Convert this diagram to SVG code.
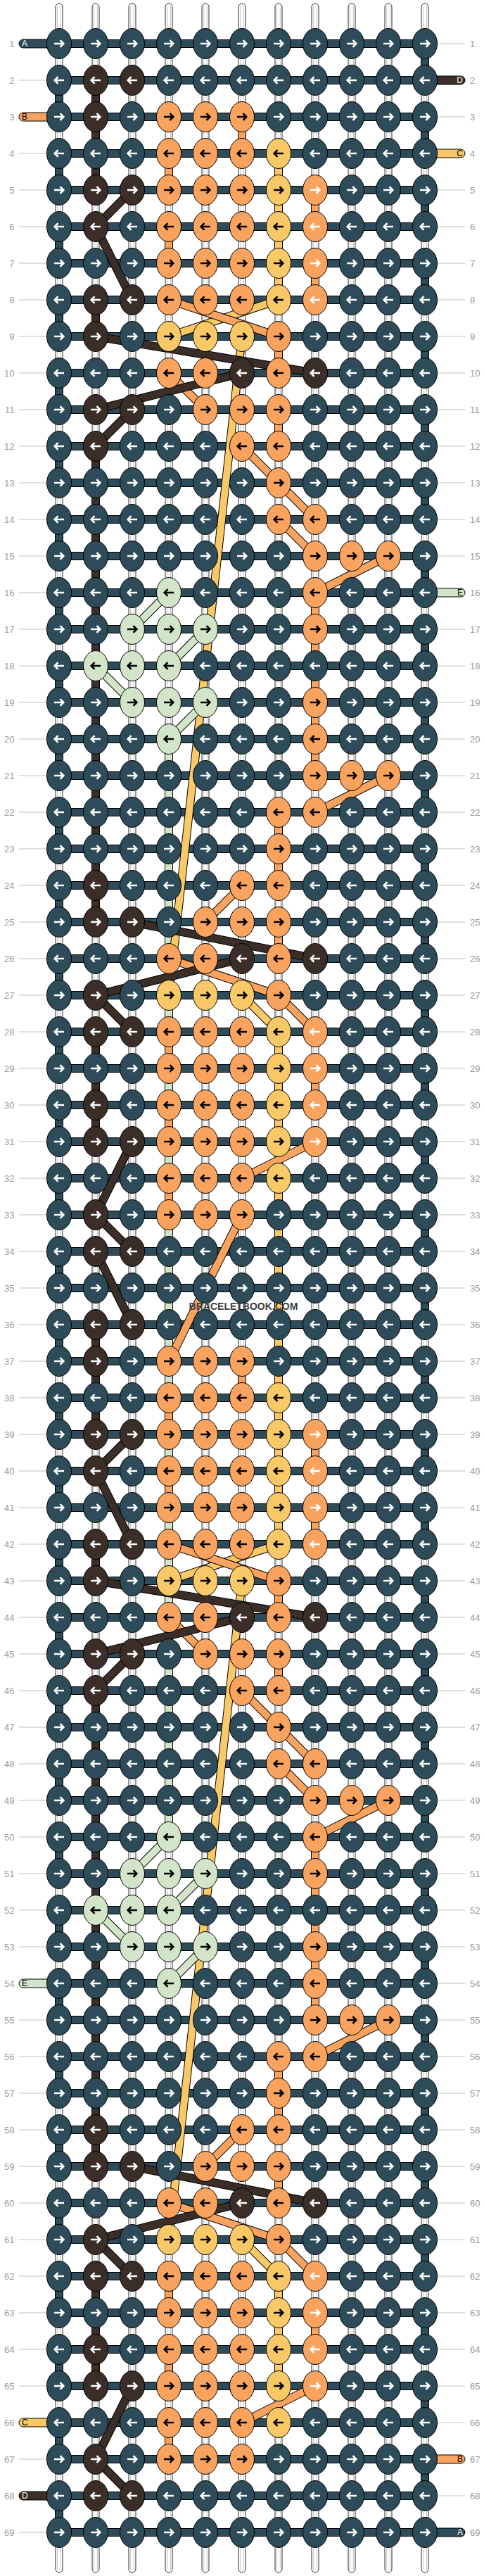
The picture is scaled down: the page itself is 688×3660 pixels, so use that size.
<svg xmlns="http://www.w3.org/2000/svg" width="688" height="3660" viewBox="0 0 688 3660">
<style>
.lbl{font-family:"Liberation Sans",Arial,sans-serif;font-size:13px;fill:#9a9a9a}
.lr{text-anchor:end}
.tab{font-family:"Liberation Sans",Arial,sans-serif;font-size:12px}
.wm{font-family:"Liberation Sans",Arial,sans-serif;font-size:14px;font-weight:bold;fill:#3d3d3d}
</style>
<defs>
<ellipse id="kn" rx="17.5" ry="21.5" stroke="#000" stroke-width="1"/>
<path id="ar" d="M-7,0H6M1.5,-4.8L6.3,0L1.5,4.8" fill="none" stroke-width="2.6"/>
<path id="al" d="M7,0H-6M-1.5,-4.8L-6.3,0L-1.5,4.8" fill="none" stroke-width="2.6"/>
<g id="Tr"><use href="#kn" fill="#2d4b58"/><use href="#ar" stroke="#fff"/></g>
<g id="Tl"><use href="#kn" fill="#2d4b58"/><use href="#al" stroke="#fff"/></g>
<g id="Kr"><use href="#kn" fill="#3b2e28"/><use href="#ar" stroke="#fff"/></g>
<g id="Kl"><use href="#kn" fill="#3b2e28"/><use href="#al" stroke="#fff"/></g>
<g id="Or"><use href="#kn" fill="#f9a35f"/><use href="#ar" stroke="#000"/></g>
<g id="Ol"><use href="#kn" fill="#f9a35f"/><use href="#al" stroke="#000"/></g>
<g id="Wr"><use href="#kn" fill="#f9a35f"/><use href="#ar" stroke="#fff"/></g>
<g id="Wl"><use href="#kn" fill="#f9a35f"/><use href="#al" stroke="#fff"/></g>
<g id="Yr"><use href="#kn" fill="#f9c967"/><use href="#ar" stroke="#000"/></g>
<g id="Yl"><use href="#kn" fill="#f9c967"/><use href="#al" stroke="#000"/></g>
<g id="Gr"><use href="#kn" fill="#d3e5c8"/><use href="#ar" stroke="#000"/></g>
<g id="Gl"><use href="#kn" fill="#d3e5c8"/><use href="#al" stroke="#000"/></g>
<rect id="vs" x="-5.5" y="19" width="11" height="14" stroke="#000" stroke-width="1"/>
<rect id="bd" x="84" y="-5.5" width="520" height="11" fill="#2d4b58" stroke="#000" stroke-width="1"/>
<g id="str"><rect x="-5" y="5" width="10" height="3650" rx="5" fill="#fff" stroke="#2a2a2a" stroke-width="1"/><path d="M-2.3,9V3651M2.3,9V3651" stroke="#c4c4c4" stroke-width="1"/></g>
<path id="dY" fill="none" d="M396,426L240,478M344,478L240,1414M344,1414L396,1466M396,2194L240,2246M344,2246L240,3182M344,3182L396,3234"/>
<path id="dO" fill="none" d="M240,426L396,478M240,530L292,582M344,634L396,686M396,686L448,738M396,738L448,790M552,790L448,842M552,1102L448,1154M344,1258L292,1310M240,1362L396,1414M396,1414L448,1466M448,1622L344,1674M344,1726L240,1934M240,2194L396,2246M240,2298L292,2350M344,2402L396,2454M396,2454L448,2506M396,2506L448,2558M552,2558L448,2610M552,2870L448,2922M344,3026L292,3078M240,3130L396,3182M396,3182L448,3234M448,3390L344,3442"/>
<path id="dG" fill="none" d="M240,842L188,894M292,894L240,946M136,946L188,998M292,998L240,1050M240,2610L188,2662M292,2662L240,2714M136,2714L188,2766M292,2766L240,2818"/>
<path id="dK" fill="none" d="M188,270L136,322M136,322L188,426M136,478L448,530M344,530L136,582M188,582L136,634M188,1310L448,1362M344,1362L136,1414M136,1414L188,1466M188,1622L136,1726M136,1726L188,1778M136,1778L188,1882M188,2038L136,2090M136,2090L188,2194M136,2246L448,2298M344,2298L136,2350M188,2350L136,2402M188,3078L448,3130M344,3130L136,3182M136,3182L188,3234M188,3390L136,3494M136,3494L188,3546"/>
</defs>
<rect width="688" height="3660" fill="#fff"/>
<g id="strings"><use href="#str" x="84"/><use href="#str" x="136"/><use href="#str" x="188"/><use href="#str" x="240"/><use href="#str" x="292"/><use href="#str" x="344"/><use href="#str" x="396"/><use href="#str" x="448"/><use href="#str" x="500"/><use href="#str" x="552"/><use href="#str" x="604"/></g>
<g id="labels">
<path d="M27,114H67M27,218H67M27,270H67M27,322H67M27,374H67M27,426H67M27,478H67M27,530H67M27,582H67M27,634H67M27,686H67M27,738H67M27,790H67M27,842H67M27,894H67M27,946H67M27,998H67M27,1050H67M27,1102H67M27,1154H67M27,1206H67M27,1258H67M27,1310H67M27,1362H67M27,1414H67M27,1466H67M27,1518H67M27,1570H67M27,1622H67M27,1674H67M27,1726H67M27,1778H67M27,1830H67M27,1882H67M27,1934H67M27,1986H67M27,2038H67M27,2090H67M27,2142H67M27,2194H67M27,2246H67M27,2298H67M27,2350H67M27,2402H67M27,2454H67M27,2506H67M27,2558H67M27,2610H67M27,2662H67M27,2714H67M27,2766H67M27,2870H67M27,2922H67M27,2974H67M27,3026H67M27,3078H67M27,3130H67M27,3182H67M27,3234H67M27,3286H67M27,3338H67M27,3390H67M27,3494H67M27,3598H67M621,62H661M621,166H661M621,270H661M621,322H661M621,374H661M621,426H661M621,478H661M621,530H661M621,582H661M621,634H661M621,686H661M621,738H661M621,790H661M621,894H661M621,946H661M621,998H661M621,1050H661M621,1102H661M621,1154H661M621,1206H661M621,1258H661M621,1310H661M621,1362H661M621,1414H661M621,1466H661M621,1518H661M621,1570H661M621,1622H661M621,1674H661M621,1726H661M621,1778H661M621,1830H661M621,1882H661M621,1934H661M621,1986H661M621,2038H661M621,2090H661M621,2142H661M621,2194H661M621,2246H661M621,2298H661M621,2350H661M621,2402H661M621,2454H661M621,2506H661M621,2558H661M621,2610H661M621,2662H661M621,2714H661M621,2766H661M621,2818H661M621,2870H661M621,2922H661M621,2974H661M621,3026H661M621,3078H661M621,3130H661M621,3182H661M621,3234H661M621,3286H661M621,3338H661M621,3390H661M621,3442H661M621,3546H661" stroke="#c0c0c0" stroke-width="1.2" fill="none"/>
<g class="lbl lr">
<text x="20.5" y="66.5">1</text><text x="20.5" y="118.5">2</text><text x="20.5" y="170.5">3</text><text x="20.5" y="222.5">4</text><text x="20.5" y="274.5">5</text><text x="20.5" y="326.5">6</text><text x="20.5" y="378.5">7</text><text x="20.5" y="430.5">8</text><text x="20.5" y="482.5">9</text><text x="20.5" y="534.5">10</text><text x="20.5" y="586.5">11</text><text x="20.5" y="638.5">12</text><text x="20.5" y="690.5">13</text><text x="20.5" y="742.5">14</text><text x="20.5" y="794.5">15</text><text x="20.5" y="846.5">16</text><text x="20.5" y="898.5">17</text><text x="20.5" y="950.5">18</text><text x="20.5" y="1002.5">19</text><text x="20.5" y="1054.5">20</text><text x="20.5" y="1106.5">21</text><text x="20.5" y="1158.5">22</text><text x="20.5" y="1210.5">23</text><text x="20.5" y="1262.5">24</text><text x="20.5" y="1314.5">25</text><text x="20.5" y="1366.5">26</text><text x="20.5" y="1418.5">27</text><text x="20.5" y="1470.5">28</text><text x="20.5" y="1522.5">29</text><text x="20.5" y="1574.5">30</text><text x="20.5" y="1626.5">31</text><text x="20.5" y="1678.5">32</text><text x="20.5" y="1730.5">33</text><text x="20.5" y="1782.5">34</text><text x="20.5" y="1834.5">35</text><text x="20.5" y="1886.5">36</text><text x="20.5" y="1938.5">37</text><text x="20.5" y="1990.5">38</text><text x="20.5" y="2042.5">39</text><text x="20.5" y="2094.5">40</text><text x="20.5" y="2146.5">41</text><text x="20.5" y="2198.5">42</text><text x="20.5" y="2250.5">43</text><text x="20.5" y="2302.5">44</text><text x="20.5" y="2354.5">45</text><text x="20.5" y="2406.5">46</text><text x="20.5" y="2458.5">47</text><text x="20.5" y="2510.5">48</text><text x="20.5" y="2562.5">49</text><text x="20.5" y="2614.5">50</text><text x="20.5" y="2666.5">51</text><text x="20.5" y="2718.5">52</text><text x="20.5" y="2770.5">53</text><text x="20.5" y="2822.5">54</text><text x="20.5" y="2874.5">55</text><text x="20.5" y="2926.5">56</text><text x="20.5" y="2978.5">57</text><text x="20.5" y="3030.5">58</text><text x="20.5" y="3082.5">59</text><text x="20.5" y="3134.5">60</text><text x="20.5" y="3186.5">61</text><text x="20.5" y="3238.5">62</text><text x="20.5" y="3290.5">63</text><text x="20.5" y="3342.5">64</text><text x="20.5" y="3394.5">65</text><text x="20.5" y="3446.5">66</text><text x="20.5" y="3498.5">67</text><text x="20.5" y="3550.5">68</text><text x="20.5" y="3602.5">69</text>
</g>
<g class="lbl">
<text x="668" y="66.5">1</text><text x="668" y="118.5">2</text><text x="668" y="170.5">3</text><text x="668" y="222.5">4</text><text x="668" y="274.5">5</text><text x="668" y="326.5">6</text><text x="668" y="378.5">7</text><text x="668" y="430.5">8</text><text x="668" y="482.5">9</text><text x="668" y="534.5">10</text><text x="668" y="586.5">11</text><text x="668" y="638.5">12</text><text x="668" y="690.5">13</text><text x="668" y="742.5">14</text><text x="668" y="794.5">15</text><text x="668" y="846.5">16</text><text x="668" y="898.5">17</text><text x="668" y="950.5">18</text><text x="668" y="1002.5">19</text><text x="668" y="1054.5">20</text><text x="668" y="1106.5">21</text><text x="668" y="1158.5">22</text><text x="668" y="1210.5">23</text><text x="668" y="1262.5">24</text><text x="668" y="1314.5">25</text><text x="668" y="1366.5">26</text><text x="668" y="1418.5">27</text><text x="668" y="1470.5">28</text><text x="668" y="1522.5">29</text><text x="668" y="1574.5">30</text><text x="668" y="1626.5">31</text><text x="668" y="1678.5">32</text><text x="668" y="1730.5">33</text><text x="668" y="1782.5">34</text><text x="668" y="1834.5">35</text><text x="668" y="1886.5">36</text><text x="668" y="1938.5">37</text><text x="668" y="1990.5">38</text><text x="668" y="2042.5">39</text><text x="668" y="2094.5">40</text><text x="668" y="2146.5">41</text><text x="668" y="2198.5">42</text><text x="668" y="2250.5">43</text><text x="668" y="2302.5">44</text><text x="668" y="2354.5">45</text><text x="668" y="2406.5">46</text><text x="668" y="2458.5">47</text><text x="668" y="2510.5">48</text><text x="668" y="2562.5">49</text><text x="668" y="2614.5">50</text><text x="668" y="2666.5">51</text><text x="668" y="2718.5">52</text><text x="668" y="2770.5">53</text><text x="668" y="2822.5">54</text><text x="668" y="2874.5">55</text><text x="668" y="2926.5">56</text><text x="668" y="2978.5">57</text><text x="668" y="3030.5">58</text><text x="668" y="3082.5">59</text><text x="668" y="3134.5">60</text><text x="668" y="3186.5">61</text><text x="668" y="3238.5">62</text><text x="668" y="3290.5">63</text><text x="668" y="3342.5">64</text><text x="668" y="3394.5">65</text><text x="668" y="3446.5">66</text><text x="668" y="3498.5">67</text><text x="668" y="3550.5">68</text><text x="668" y="3602.5">69</text>
</g>
</g>
<g id="bands"><use href="#bd" y="62"/><use href="#bd" y="114"/><use href="#bd" y="166"/><use href="#bd" y="218"/><use href="#bd" y="270"/><use href="#bd" y="322"/><use href="#bd" y="374"/><use href="#bd" y="426"/><use href="#bd" y="478"/><use href="#bd" y="530"/><use href="#bd" y="582"/><use href="#bd" y="634"/><use href="#bd" y="686"/><use href="#bd" y="738"/><use href="#bd" y="790"/><use href="#bd" y="842"/><use href="#bd" y="894"/><use href="#bd" y="946"/><use href="#bd" y="998"/><use href="#bd" y="1050"/><use href="#bd" y="1102"/><use href="#bd" y="1154"/><use href="#bd" y="1206"/><use href="#bd" y="1258"/><use href="#bd" y="1310"/><use href="#bd" y="1362"/><use href="#bd" y="1414"/><use href="#bd" y="1466"/><use href="#bd" y="1518"/><use href="#bd" y="1570"/><use href="#bd" y="1622"/><use href="#bd" y="1674"/><use href="#bd" y="1726"/><use href="#bd" y="1778"/><use href="#bd" y="1830"/><use href="#bd" y="1882"/><use href="#bd" y="1934"/><use href="#bd" y="1986"/><use href="#bd" y="2038"/><use href="#bd" y="2090"/><use href="#bd" y="2142"/><use href="#bd" y="2194"/><use href="#bd" y="2246"/><use href="#bd" y="2298"/><use href="#bd" y="2350"/><use href="#bd" y="2402"/><use href="#bd" y="2454"/><use href="#bd" y="2506"/><use href="#bd" y="2558"/><use href="#bd" y="2610"/><use href="#bd" y="2662"/><use href="#bd" y="2714"/><use href="#bd" y="2766"/><use href="#bd" y="2818"/><use href="#bd" y="2870"/><use href="#bd" y="2922"/><use href="#bd" y="2974"/><use href="#bd" y="3026"/><use href="#bd" y="3078"/><use href="#bd" y="3130"/><use href="#bd" y="3182"/><use href="#bd" y="3234"/><use href="#bd" y="3286"/><use href="#bd" y="3338"/><use href="#bd" y="3390"/><use href="#bd" y="3442"/><use href="#bd" y="3494"/><use href="#bd" y="3546"/><use href="#bd" y="3598"/></g>
<g id="tabs">
<g fill="#2d4b58" stroke="#000"><rect x="27" y="56" width="48" height="12" rx="6"/><rect x="613" y="3592" width="48" height="12" rx="6"/></g>
<g fill="#f9a35f" stroke="#000"><rect x="27" y="160" width="48" height="12" rx="6"/><rect x="613" y="3488" width="48" height="12" rx="6"/></g>
<g fill="#3b2e28" stroke="#000"><rect x="613" y="108" width="48" height="12" rx="6"/><rect x="27" y="3540" width="48" height="12" rx="6"/></g>
<g fill="#f9c967" stroke="#000"><rect x="613" y="212" width="48" height="12" rx="6"/><rect x="27" y="3436" width="48" height="12" rx="6"/></g>
<g fill="#d3e5c8" stroke="#000"><rect x="613" y="836" width="48" height="12" rx="6"/><rect x="27" y="2812" width="48" height="12" rx="6"/></g>
<g class="tab">
<text x="31" y="66.3" fill="#fff">A</text><text x="658" y="3602.3" fill="#fff" text-anchor="end">A</text>
<text x="31" y="170.3" fill="#000">B</text><text x="658" y="3498.3" fill="#000" text-anchor="end">B</text>
<text x="658" y="118.3" fill="#fff" text-anchor="end">D</text><text x="31" y="3550.3" fill="#fff">D</text>
<text x="658" y="222.3" fill="#000" text-anchor="end">C</text><text x="31" y="3446.3" fill="#000">C</text>
<text x="658" y="846.3" fill="#000" text-anchor="end">E</text><text x="31" y="2822.3" fill="#000">E</text>
</g>
</g>
<g id="connectors">
<g id="turns" fill="#2d4b58"><use href="#vs" x="604" y="62"/><use href="#vs" x="604" y="166"/><use href="#vs" x="604" y="270"/><use href="#vs" x="604" y="374"/><use href="#vs" x="604" y="478"/><use href="#vs" x="604" y="582"/><use href="#vs" x="604" y="686"/><use href="#vs" x="604" y="790"/><use href="#vs" x="604" y="894"/><use href="#vs" x="604" y="998"/><use href="#vs" x="604" y="1102"/><use href="#vs" x="604" y="1206"/><use href="#vs" x="604" y="1310"/><use href="#vs" x="604" y="1414"/><use href="#vs" x="604" y="1518"/><use href="#vs" x="604" y="1622"/><use href="#vs" x="604" y="1726"/><use href="#vs" x="604" y="1830"/><use href="#vs" x="604" y="1934"/><use href="#vs" x="604" y="2038"/><use href="#vs" x="604" y="2142"/><use href="#vs" x="604" y="2246"/><use href="#vs" x="604" y="2350"/><use href="#vs" x="604" y="2454"/><use href="#vs" x="604" y="2558"/><use href="#vs" x="604" y="2662"/><use href="#vs" x="604" y="2766"/><use href="#vs" x="604" y="2870"/><use href="#vs" x="604" y="2974"/><use href="#vs" x="604" y="3078"/><use href="#vs" x="604" y="3182"/><use href="#vs" x="604" y="3286"/><use href="#vs" x="604" y="3390"/><use href="#vs" x="604" y="3494"/><use href="#vs" x="84" y="114"/><use href="#vs" x="84" y="218"/><use href="#vs" x="84" y="322"/><use href="#vs" x="84" y="426"/><use href="#vs" x="84" y="530"/><use href="#vs" x="84" y="634"/><use href="#vs" x="84" y="738"/><use href="#vs" x="84" y="842"/><use href="#vs" x="84" y="946"/><use href="#vs" x="84" y="1050"/><use href="#vs" x="84" y="1154"/><use href="#vs" x="84" y="1258"/><use href="#vs" x="84" y="1362"/><use href="#vs" x="84" y="1466"/><use href="#vs" x="84" y="1570"/><use href="#vs" x="84" y="1674"/><use href="#vs" x="84" y="1778"/><use href="#vs" x="84" y="1882"/><use href="#vs" x="84" y="1986"/><use href="#vs" x="84" y="2090"/><use href="#vs" x="84" y="2194"/><use href="#vs" x="84" y="2298"/><use href="#vs" x="84" y="2402"/><use href="#vs" x="84" y="2506"/><use href="#vs" x="84" y="2610"/><use href="#vs" x="84" y="2714"/><use href="#vs" x="84" y="2818"/><use href="#vs" x="84" y="2922"/><use href="#vs" x="84" y="3026"/><use href="#vs" x="84" y="3130"/><use href="#vs" x="84" y="3234"/><use href="#vs" x="84" y="3338"/><use href="#vs" x="84" y="3442"/><use href="#vs" x="84" y="3546"/></g>
<g id="vK" fill="#3b2e28"><use href="#vs" x="136" y="114"/><use href="#vs" x="136" y="166"/><use href="#vs" x="136" y="218"/><use href="#vs" x="136" y="426"/><use href="#vs" x="136" y="634"/><use href="#vs" x="136" y="686"/><use href="#vs" x="136" y="738"/><use href="#vs" x="136" y="790"/><use href="#vs" x="136" y="842"/><use href="#vs" x="136" y="894"/><use href="#vs" x="136" y="946"/><use href="#vs" x="136" y="998"/><use href="#vs" x="136" y="1050"/><use href="#vs" x="136" y="1102"/><use href="#vs" x="136" y="1154"/><use href="#vs" x="136" y="1206"/><use href="#vs" x="136" y="1258"/><use href="#vs" x="136" y="1466"/><use href="#vs" x="136" y="1518"/><use href="#vs" x="136" y="1570"/><use href="#vs" x="136" y="1882"/><use href="#vs" x="136" y="1934"/><use href="#vs" x="136" y="1986"/><use href="#vs" x="136" y="2194"/><use href="#vs" x="136" y="2402"/><use href="#vs" x="136" y="2454"/><use href="#vs" x="136" y="2506"/><use href="#vs" x="136" y="2558"/><use href="#vs" x="136" y="2610"/><use href="#vs" x="136" y="2662"/><use href="#vs" x="136" y="2714"/><use href="#vs" x="136" y="2766"/><use href="#vs" x="136" y="2818"/><use href="#vs" x="136" y="2870"/><use href="#vs" x="136" y="2922"/><use href="#vs" x="136" y="2974"/><use href="#vs" x="136" y="3026"/><use href="#vs" x="136" y="3234"/><use href="#vs" x="136" y="3286"/><use href="#vs" x="136" y="3338"/></g>
<g id="vG" fill="#d3e5c8"><use href="#vs" x="240" y="1050"/><use href="#vs" x="240" y="1102"/><use href="#vs" x="240" y="1154"/><use href="#vs" x="240" y="1206"/><use href="#vs" x="240" y="1258"/><use href="#vs" x="240" y="1310"/><use href="#vs" x="240" y="1362"/><use href="#vs" x="240" y="1414"/><use href="#vs" x="240" y="1518"/><use href="#vs" x="240" y="1622"/><use href="#vs" x="240" y="1726"/><use href="#vs" x="240" y="1778"/><use href="#vs" x="240" y="1830"/><use href="#vs" x="240" y="1882"/><use href="#vs" x="240" y="1934"/><use href="#vs" x="240" y="2038"/><use href="#vs" x="240" y="2142"/><use href="#vs" x="240" y="2194"/><use href="#vs" x="240" y="2246"/><use href="#vs" x="240" y="2298"/><use href="#vs" x="240" y="2350"/><use href="#vs" x="240" y="2402"/><use href="#vs" x="240" y="2454"/><use href="#vs" x="240" y="2506"/><use href="#vs" x="240" y="2558"/></g>
<g id="vO" fill="#f9a35f"><use href="#vs" x="344" y="166"/><use href="#vs" x="240" y="218"/><use href="#vs" x="448" y="270"/><use href="#vs" x="240" y="322"/><use href="#vs" x="448" y="374"/><use href="#vs" x="396" y="478"/><use href="#vs" x="396" y="582"/><use href="#vs" x="448" y="842"/><use href="#vs" x="448" y="894"/><use href="#vs" x="448" y="946"/><use href="#vs" x="448" y="998"/><use href="#vs" x="448" y="1050"/><use href="#vs" x="396" y="1154"/><use href="#vs" x="396" y="1206"/><use href="#vs" x="396" y="1310"/><use href="#vs" x="240" y="1466"/><use href="#vs" x="448" y="1518"/><use href="#vs" x="240" y="1570"/><use href="#vs" x="240" y="1674"/><use href="#vs" x="344" y="1934"/><use href="#vs" x="240" y="1986"/><use href="#vs" x="448" y="2038"/><use href="#vs" x="240" y="2090"/><use href="#vs" x="448" y="2142"/><use href="#vs" x="396" y="2246"/><use href="#vs" x="396" y="2350"/><use href="#vs" x="448" y="2610"/><use href="#vs" x="448" y="2662"/><use href="#vs" x="448" y="2714"/><use href="#vs" x="448" y="2766"/><use href="#vs" x="448" y="2818"/><use href="#vs" x="396" y="2922"/><use href="#vs" x="396" y="2974"/><use href="#vs" x="396" y="3078"/><use href="#vs" x="240" y="3234"/><use href="#vs" x="448" y="3286"/><use href="#vs" x="240" y="3338"/><use href="#vs" x="240" y="3442"/></g>
<g id="vY" fill="#f9c967"><use href="#vs" x="396" y="218"/><use href="#vs" x="396" y="270"/><use href="#vs" x="396" y="322"/><use href="#vs" x="396" y="374"/><use href="#vs" x="396" y="1466"/><use href="#vs" x="396" y="1518"/><use href="#vs" x="396" y="1570"/><use href="#vs" x="396" y="1622"/><use href="#vs" x="396" y="1674"/><use href="#vs" x="396" y="1726"/><use href="#vs" x="396" y="1778"/><use href="#vs" x="396" y="1830"/><use href="#vs" x="396" y="1882"/><use href="#vs" x="396" y="1934"/><use href="#vs" x="396" y="1986"/><use href="#vs" x="396" y="2038"/><use href="#vs" x="396" y="2090"/><use href="#vs" x="396" y="2142"/><use href="#vs" x="396" y="3234"/><use href="#vs" x="396" y="3286"/><use href="#vs" x="396" y="3338"/><use href="#vs" x="396" y="3390"/></g>
<g id="diagonals">
<use href="#dY" stroke="#000" stroke-width="12"/><use href="#dY" stroke="#f9c967" stroke-width="10"/>
<use href="#dO" stroke="#000" stroke-width="12"/><use href="#dO" stroke="#f9a35f" stroke-width="10"/>
<use href="#dG" stroke="#000" stroke-width="12"/><use href="#dG" stroke="#d3e5c8" stroke-width="10"/>
<use href="#dK" stroke="#000" stroke-width="12"/><use href="#dK" stroke="#3b2e28" stroke-width="10"/>
</g>
</g>
<g id="knots">
<g id="row1" transform="translate(0,62)"><use id="n1_1" href="#Tr" x="84"/><use id="n1_2" href="#Tr" x="136"/><use id="n1_3" href="#Tr" x="188"/><use id="n1_4" href="#Tr" x="240"/><use id="n1_5" href="#Tr" x="292"/><use id="n1_6" href="#Tr" x="344"/><use id="n1_7" href="#Tr" x="396"/><use id="n1_8" href="#Tr" x="448"/><use id="n1_9" href="#Tr" x="500"/><use id="n1_10" href="#Tr" x="552"/><use id="n1_11" href="#Tr" x="604"/></g>
<g id="row2" transform="translate(0,114)"><use id="n2_1" href="#Tl" x="84"/><use id="n2_2" href="#Kl" x="136"/><use id="n2_3" href="#Kl" x="188"/><use id="n2_4" href="#Tl" x="240"/><use id="n2_5" href="#Tl" x="292"/><use id="n2_6" href="#Tl" x="344"/><use id="n2_7" href="#Tl" x="396"/><use id="n2_8" href="#Tl" x="448"/><use id="n2_9" href="#Tl" x="500"/><use id="n2_10" href="#Tl" x="552"/><use id="n2_11" href="#Tl" x="604"/></g>
<g id="row3" transform="translate(0,166)"><use id="n3_1" href="#Tr" x="84"/><use id="n3_2" href="#Kr" x="136"/><use id="n3_3" href="#Tr" x="188"/><use id="n3_4" href="#Or" x="240"/><use id="n3_5" href="#Or" x="292"/><use id="n3_6" href="#Or" x="344"/><use id="n3_7" href="#Tr" x="396"/><use id="n3_8" href="#Tr" x="448"/><use id="n3_9" href="#Tr" x="500"/><use id="n3_10" href="#Tr" x="552"/><use id="n3_11" href="#Tr" x="604"/></g>
<g id="row4" transform="translate(0,218)"><use id="n4_1" href="#Tl" x="84"/><use id="n4_2" href="#Tl" x="136"/><use id="n4_3" href="#Tl" x="188"/><use id="n4_4" href="#Ol" x="240"/><use id="n4_5" href="#Ol" x="292"/><use id="n4_6" href="#Ol" x="344"/><use id="n4_7" href="#Yl" x="396"/><use id="n4_8" href="#Tl" x="448"/><use id="n4_9" href="#Tl" x="500"/><use id="n4_10" href="#Tl" x="552"/><use id="n4_11" href="#Tl" x="604"/></g>
<g id="row5" transform="translate(0,270)"><use id="n5_1" href="#Tr" x="84"/><use id="n5_2" href="#Kr" x="136"/><use id="n5_3" href="#Kr" x="188"/><use id="n5_4" href="#Or" x="240"/><use id="n5_5" href="#Or" x="292"/><use id="n5_6" href="#Or" x="344"/><use id="n5_7" href="#Yr" x="396"/><use id="n5_8" href="#Wr" x="448"/><use id="n5_9" href="#Tr" x="500"/><use id="n5_10" href="#Tr" x="552"/><use id="n5_11" href="#Tr" x="604"/></g>
<g id="row6" transform="translate(0,322)"><use id="n6_1" href="#Tl" x="84"/><use id="n6_2" href="#Kl" x="136"/><use id="n6_3" href="#Tl" x="188"/><use id="n6_4" href="#Ol" x="240"/><use id="n6_5" href="#Ol" x="292"/><use id="n6_6" href="#Ol" x="344"/><use id="n6_7" href="#Yl" x="396"/><use id="n6_8" href="#Wl" x="448"/><use id="n6_9" href="#Tl" x="500"/><use id="n6_10" href="#Tl" x="552"/><use id="n6_11" href="#Tl" x="604"/></g>
<g id="row7" transform="translate(0,374)"><use id="n7_1" href="#Tr" x="84"/><use id="n7_2" href="#Tr" x="136"/><use id="n7_3" href="#Tr" x="188"/><use id="n7_4" href="#Or" x="240"/><use id="n7_5" href="#Or" x="292"/><use id="n7_6" href="#Or" x="344"/><use id="n7_7" href="#Yr" x="396"/><use id="n7_8" href="#Wr" x="448"/><use id="n7_9" href="#Tr" x="500"/><use id="n7_10" href="#Tr" x="552"/><use id="n7_11" href="#Tr" x="604"/></g>
<g id="row8" transform="translate(0,426)"><use id="n8_1" href="#Tl" x="84"/><use id="n8_2" href="#Kl" x="136"/><use id="n8_3" href="#Kl" x="188"/><use id="n8_4" href="#Ol" x="240"/><use id="n8_5" href="#Ol" x="292"/><use id="n8_6" href="#Ol" x="344"/><use id="n8_7" href="#Yl" x="396"/><use id="n8_8" href="#Wl" x="448"/><use id="n8_9" href="#Tl" x="500"/><use id="n8_10" href="#Tl" x="552"/><use id="n8_11" href="#Tl" x="604"/></g>
<g id="row9" transform="translate(0,478)"><use id="n9_1" href="#Tr" x="84"/><use id="n9_2" href="#Kr" x="136"/><use id="n9_3" href="#Tr" x="188"/><use id="n9_4" href="#Yr" x="240"/><use id="n9_5" href="#Yr" x="292"/><use id="n9_6" href="#Yr" x="344"/><use id="n9_7" href="#Or" x="396"/><use id="n9_8" href="#Tr" x="448"/><use id="n9_9" href="#Tr" x="500"/><use id="n9_10" href="#Tr" x="552"/><use id="n9_11" href="#Tr" x="604"/></g>
<g id="row10" transform="translate(0,530)"><use id="n10_1" href="#Tl" x="84"/><use id="n10_2" href="#Tl" x="136"/><use id="n10_3" href="#Tl" x="188"/><use id="n10_4" href="#Ol" x="240"/><use id="n10_5" href="#Ol" x="292"/><use id="n10_6" href="#Kl" x="344"/><use id="n10_7" href="#Ol" x="396"/><use id="n10_8" href="#Kl" x="448"/><use id="n10_9" href="#Tl" x="500"/><use id="n10_10" href="#Tl" x="552"/><use id="n10_11" href="#Tl" x="604"/></g>
<g id="row11" transform="translate(0,582)"><use id="n11_1" href="#Tr" x="84"/><use id="n11_2" href="#Kr" x="136"/><use id="n11_3" href="#Kr" x="188"/><use id="n11_4" href="#Tr" x="240"/><use id="n11_5" href="#Or" x="292"/><use id="n11_6" href="#Or" x="344"/><use id="n11_7" href="#Or" x="396"/><use id="n11_8" href="#Tr" x="448"/><use id="n11_9" href="#Tr" x="500"/><use id="n11_10" href="#Tr" x="552"/><use id="n11_11" href="#Tr" x="604"/></g>
<g id="row12" transform="translate(0,634)"><use id="n12_1" href="#Tl" x="84"/><use id="n12_2" href="#Kl" x="136"/><use id="n12_3" href="#Tl" x="188"/><use id="n12_4" href="#Tl" x="240"/><use id="n12_5" href="#Tl" x="292"/><use id="n12_6" href="#Ol" x="344"/><use id="n12_7" href="#Ol" x="396"/><use id="n12_8" href="#Tl" x="448"/><use id="n12_9" href="#Tl" x="500"/><use id="n12_10" href="#Tl" x="552"/><use id="n12_11" href="#Tl" x="604"/></g>
<g id="row13" transform="translate(0,686)"><use id="n13_1" href="#Tr" x="84"/><use id="n13_2" href="#Tr" x="136"/><use id="n13_3" href="#Tr" x="188"/><use id="n13_4" href="#Tr" x="240"/><use id="n13_5" href="#Tr" x="292"/><use id="n13_6" href="#Tr" x="344"/><use id="n13_7" href="#Or" x="396"/><use id="n13_8" href="#Tr" x="448"/><use id="n13_9" href="#Tr" x="500"/><use id="n13_10" href="#Tr" x="552"/><use id="n13_11" href="#Tr" x="604"/></g>
<g id="row14" transform="translate(0,738)"><use id="n14_1" href="#Tl" x="84"/><use id="n14_2" href="#Tl" x="136"/><use id="n14_3" href="#Tl" x="188"/><use id="n14_4" href="#Tl" x="240"/><use id="n14_5" href="#Tl" x="292"/><use id="n14_6" href="#Tl" x="344"/><use id="n14_7" href="#Ol" x="396"/><use id="n14_8" href="#Ol" x="448"/><use id="n14_9" href="#Tl" x="500"/><use id="n14_10" href="#Tl" x="552"/><use id="n14_11" href="#Tl" x="604"/></g>
<g id="row15" transform="translate(0,790)"><use id="n15_1" href="#Tr" x="84"/><use id="n15_2" href="#Tr" x="136"/><use id="n15_3" href="#Tr" x="188"/><use id="n15_4" href="#Tr" x="240"/><use id="n15_5" href="#Tr" x="292"/><use id="n15_6" href="#Tr" x="344"/><use id="n15_7" href="#Tr" x="396"/><use id="n15_8" href="#Or" x="448"/><use id="n15_9" href="#Or" x="500"/><use id="n15_10" href="#Or" x="552"/><use id="n15_11" href="#Tr" x="604"/></g>
<g id="row16" transform="translate(0,842)"><use id="n16_1" href="#Tl" x="84"/><use id="n16_2" href="#Tl" x="136"/><use id="n16_3" href="#Tl" x="188"/><use id="n16_4" href="#Gl" x="240"/><use id="n16_5" href="#Tl" x="292"/><use id="n16_6" href="#Tl" x="344"/><use id="n16_7" href="#Tl" x="396"/><use id="n16_8" href="#Ol" x="448"/><use id="n16_9" href="#Tl" x="500"/><use id="n16_10" href="#Tl" x="552"/><use id="n16_11" href="#Tl" x="604"/></g>
<g id="row17" transform="translate(0,894)"><use id="n17_1" href="#Tr" x="84"/><use id="n17_2" href="#Tr" x="136"/><use id="n17_3" href="#Gr" x="188"/><use id="n17_4" href="#Gr" x="240"/><use id="n17_5" href="#Gr" x="292"/><use id="n17_6" href="#Tr" x="344"/><use id="n17_7" href="#Tr" x="396"/><use id="n17_8" href="#Or" x="448"/><use id="n17_9" href="#Tr" x="500"/><use id="n17_10" href="#Tr" x="552"/><use id="n17_11" href="#Tr" x="604"/></g>
<g id="row18" transform="translate(0,946)"><use id="n18_1" href="#Tl" x="84"/><use id="n18_2" href="#Gl" x="136"/><use id="n18_3" href="#Gl" x="188"/><use id="n18_4" href="#Gl" x="240"/><use id="n18_5" href="#Tl" x="292"/><use id="n18_6" href="#Tl" x="344"/><use id="n18_7" href="#Tl" x="396"/><use id="n18_8" href="#Tl" x="448"/><use id="n18_9" href="#Tl" x="500"/><use id="n18_10" href="#Tl" x="552"/><use id="n18_11" href="#Tl" x="604"/></g>
<g id="row19" transform="translate(0,998)"><use id="n19_1" href="#Tr" x="84"/><use id="n19_2" href="#Tr" x="136"/><use id="n19_3" href="#Gr" x="188"/><use id="n19_4" href="#Gr" x="240"/><use id="n19_5" href="#Gr" x="292"/><use id="n19_6" href="#Tr" x="344"/><use id="n19_7" href="#Tr" x="396"/><use id="n19_8" href="#Or" x="448"/><use id="n19_9" href="#Tr" x="500"/><use id="n19_10" href="#Tr" x="552"/><use id="n19_11" href="#Tr" x="604"/></g>
<g id="row20" transform="translate(0,1050)"><use id="n20_1" href="#Tl" x="84"/><use id="n20_2" href="#Tl" x="136"/><use id="n20_3" href="#Tl" x="188"/><use id="n20_4" href="#Gl" x="240"/><use id="n20_5" href="#Tl" x="292"/><use id="n20_6" href="#Tl" x="344"/><use id="n20_7" href="#Tl" x="396"/><use id="n20_8" href="#Ol" x="448"/><use id="n20_9" href="#Tl" x="500"/><use id="n20_10" href="#Tl" x="552"/><use id="n20_11" href="#Tl" x="604"/></g>
<g id="row21" transform="translate(0,1102)"><use id="n21_1" href="#Tr" x="84"/><use id="n21_2" href="#Tr" x="136"/><use id="n21_3" href="#Tr" x="188"/><use id="n21_4" href="#Tr" x="240"/><use id="n21_5" href="#Tr" x="292"/><use id="n21_6" href="#Tr" x="344"/><use id="n21_7" href="#Tr" x="396"/><use id="n21_8" href="#Or" x="448"/><use id="n21_9" href="#Or" x="500"/><use id="n21_10" href="#Or" x="552"/><use id="n21_11" href="#Tr" x="604"/></g>
<g id="row22" transform="translate(0,1154)"><use id="n22_1" href="#Tl" x="84"/><use id="n22_2" href="#Tl" x="136"/><use id="n22_3" href="#Tl" x="188"/><use id="n22_4" href="#Tl" x="240"/><use id="n22_5" href="#Tl" x="292"/><use id="n22_6" href="#Tl" x="344"/><use id="n22_7" href="#Ol" x="396"/><use id="n22_8" href="#Ol" x="448"/><use id="n22_9" href="#Tl" x="500"/><use id="n22_10" href="#Tl" x="552"/><use id="n22_11" href="#Tl" x="604"/></g>
<g id="row23" transform="translate(0,1206)"><use id="n23_1" href="#Tr" x="84"/><use id="n23_2" href="#Tr" x="136"/><use id="n23_3" href="#Tr" x="188"/><use id="n23_4" href="#Tr" x="240"/><use id="n23_5" href="#Tr" x="292"/><use id="n23_6" href="#Tr" x="344"/><use id="n23_7" href="#Or" x="396"/><use id="n23_8" href="#Tr" x="448"/><use id="n23_9" href="#Tr" x="500"/><use id="n23_10" href="#Tr" x="552"/><use id="n23_11" href="#Tr" x="604"/></g>
<g id="row24" transform="translate(0,1258)"><use id="n24_1" href="#Tl" x="84"/><use id="n24_2" href="#Kl" x="136"/><use id="n24_3" href="#Tl" x="188"/><use id="n24_4" href="#Tl" x="240"/><use id="n24_5" href="#Tl" x="292"/><use id="n24_6" href="#Ol" x="344"/><use id="n24_7" href="#Ol" x="396"/><use id="n24_8" href="#Tl" x="448"/><use id="n24_9" href="#Tl" x="500"/><use id="n24_10" href="#Tl" x="552"/><use id="n24_11" href="#Tl" x="604"/></g>
<g id="row25" transform="translate(0,1310)"><use id="n25_1" href="#Tr" x="84"/><use id="n25_2" href="#Kr" x="136"/><use id="n25_3" href="#Kr" x="188"/><use id="n25_4" href="#Tr" x="240"/><use id="n25_5" href="#Or" x="292"/><use id="n25_6" href="#Or" x="344"/><use id="n25_7" href="#Or" x="396"/><use id="n25_8" href="#Tr" x="448"/><use id="n25_9" href="#Tr" x="500"/><use id="n25_10" href="#Tr" x="552"/><use id="n25_11" href="#Tr" x="604"/></g>
<g id="row26" transform="translate(0,1362)"><use id="n26_1" href="#Tl" x="84"/><use id="n26_2" href="#Tl" x="136"/><use id="n26_3" href="#Tl" x="188"/><use id="n26_4" href="#Ol" x="240"/><use id="n26_5" href="#Ol" x="292"/><use id="n26_6" href="#Kl" x="344"/><use id="n26_7" href="#Ol" x="396"/><use id="n26_8" href="#Kl" x="448"/><use id="n26_9" href="#Tl" x="500"/><use id="n26_10" href="#Tl" x="552"/><use id="n26_11" href="#Tl" x="604"/></g>
<g id="row27" transform="translate(0,1414)"><use id="n27_1" href="#Tr" x="84"/><use id="n27_2" href="#Kr" x="136"/><use id="n27_3" href="#Tr" x="188"/><use id="n27_4" href="#Yr" x="240"/><use id="n27_5" href="#Yr" x="292"/><use id="n27_6" href="#Yr" x="344"/><use id="n27_7" href="#Or" x="396"/><use id="n27_8" href="#Tr" x="448"/><use id="n27_9" href="#Tr" x="500"/><use id="n27_10" href="#Tr" x="552"/><use id="n27_11" href="#Tr" x="604"/></g>
<g id="row28" transform="translate(0,1466)"><use id="n28_1" href="#Tl" x="84"/><use id="n28_2" href="#Kl" x="136"/><use id="n28_3" href="#Kl" x="188"/><use id="n28_4" href="#Ol" x="240"/><use id="n28_5" href="#Ol" x="292"/><use id="n28_6" href="#Ol" x="344"/><use id="n28_7" href="#Yl" x="396"/><use id="n28_8" href="#Wl" x="448"/><use id="n28_9" href="#Tl" x="500"/><use id="n28_10" href="#Tl" x="552"/><use id="n28_11" href="#Tl" x="604"/></g>
<g id="row29" transform="translate(0,1518)"><use id="n29_1" href="#Tr" x="84"/><use id="n29_2" href="#Tr" x="136"/><use id="n29_3" href="#Tr" x="188"/><use id="n29_4" href="#Or" x="240"/><use id="n29_5" href="#Or" x="292"/><use id="n29_6" href="#Or" x="344"/><use id="n29_7" href="#Yr" x="396"/><use id="n29_8" href="#Wr" x="448"/><use id="n29_9" href="#Tr" x="500"/><use id="n29_10" href="#Tr" x="552"/><use id="n29_11" href="#Tr" x="604"/></g>
<g id="row30" transform="translate(0,1570)"><use id="n30_1" href="#Tl" x="84"/><use id="n30_2" href="#Kl" x="136"/><use id="n30_3" href="#Tl" x="188"/><use id="n30_4" href="#Ol" x="240"/><use id="n30_5" href="#Ol" x="292"/><use id="n30_6" href="#Ol" x="344"/><use id="n30_7" href="#Yl" x="396"/><use id="n30_8" href="#Wl" x="448"/><use id="n30_9" href="#Tl" x="500"/><use id="n30_10" href="#Tl" x="552"/><use id="n30_11" href="#Tl" x="604"/></g>
<g id="row31" transform="translate(0,1622)"><use id="n31_1" href="#Tr" x="84"/><use id="n31_2" href="#Kr" x="136"/><use id="n31_3" href="#Kr" x="188"/><use id="n31_4" href="#Or" x="240"/><use id="n31_5" href="#Or" x="292"/><use id="n31_6" href="#Or" x="344"/><use id="n31_7" href="#Yr" x="396"/><use id="n31_8" href="#Wr" x="448"/><use id="n31_9" href="#Tr" x="500"/><use id="n31_10" href="#Tr" x="552"/><use id="n31_11" href="#Tr" x="604"/></g>
<g id="row32" transform="translate(0,1674)"><use id="n32_1" href="#Tl" x="84"/><use id="n32_2" href="#Tl" x="136"/><use id="n32_3" href="#Tl" x="188"/><use id="n32_4" href="#Ol" x="240"/><use id="n32_5" href="#Ol" x="292"/><use id="n32_6" href="#Ol" x="344"/><use id="n32_7" href="#Yl" x="396"/><use id="n32_8" href="#Tl" x="448"/><use id="n32_9" href="#Tl" x="500"/><use id="n32_10" href="#Tl" x="552"/><use id="n32_11" href="#Tl" x="604"/></g>
<g id="row33" transform="translate(0,1726)"><use id="n33_1" href="#Tr" x="84"/><use id="n33_2" href="#Kr" x="136"/><use id="n33_3" href="#Tr" x="188"/><use id="n33_4" href="#Or" x="240"/><use id="n33_5" href="#Or" x="292"/><use id="n33_6" href="#Or" x="344"/><use id="n33_7" href="#Tr" x="396"/><use id="n33_8" href="#Tr" x="448"/><use id="n33_9" href="#Tr" x="500"/><use id="n33_10" href="#Tr" x="552"/><use id="n33_11" href="#Tr" x="604"/></g>
<g id="row34" transform="translate(0,1778)"><use id="n34_1" href="#Tl" x="84"/><use id="n34_2" href="#Kl" x="136"/><use id="n34_3" href="#Kl" x="188"/><use id="n34_4" href="#Tl" x="240"/><use id="n34_5" href="#Tl" x="292"/><use id="n34_6" href="#Tl" x="344"/><use id="n34_7" href="#Tl" x="396"/><use id="n34_8" href="#Tl" x="448"/><use id="n34_9" href="#Tl" x="500"/><use id="n34_10" href="#Tl" x="552"/><use id="n34_11" href="#Tl" x="604"/></g>
<g id="row35" transform="translate(0,1830)"><use id="n35_1" href="#Tr" x="84"/><use id="n35_2" href="#Tr" x="136"/><use id="n35_3" href="#Tr" x="188"/><use id="n35_4" href="#Tr" x="240"/><use id="n35_5" href="#Tr" x="292"/><use id="n35_6" href="#Tr" x="344"/><use id="n35_7" href="#Tr" x="396"/><use id="n35_8" href="#Tr" x="448"/><use id="n35_9" href="#Tr" x="500"/><use id="n35_10" href="#Tr" x="552"/><use id="n35_11" href="#Tr" x="604"/></g>
<g id="row36" transform="translate(0,1882)"><use id="n36_1" href="#Tl" x="84"/><use id="n36_2" href="#Kl" x="136"/><use id="n36_3" href="#Kl" x="188"/><use id="n36_4" href="#Tl" x="240"/><use id="n36_5" href="#Tl" x="292"/><use id="n36_6" href="#Tl" x="344"/><use id="n36_7" href="#Tl" x="396"/><use id="n36_8" href="#Tl" x="448"/><use id="n36_9" href="#Tl" x="500"/><use id="n36_10" href="#Tl" x="552"/><use id="n36_11" href="#Tl" x="604"/></g>
<g id="row37" transform="translate(0,1934)"><use id="n37_1" href="#Tr" x="84"/><use id="n37_2" href="#Kr" x="136"/><use id="n37_3" href="#Tr" x="188"/><use id="n37_4" href="#Or" x="240"/><use id="n37_5" href="#Or" x="292"/><use id="n37_6" href="#Or" x="344"/><use id="n37_7" href="#Tr" x="396"/><use id="n37_8" href="#Tr" x="448"/><use id="n37_9" href="#Tr" x="500"/><use id="n37_10" href="#Tr" x="552"/><use id="n37_11" href="#Tr" x="604"/></g>
<g id="row38" transform="translate(0,1986)"><use id="n38_1" href="#Tl" x="84"/><use id="n38_2" href="#Tl" x="136"/><use id="n38_3" href="#Tl" x="188"/><use id="n38_4" href="#Ol" x="240"/><use id="n38_5" href="#Ol" x="292"/><use id="n38_6" href="#Ol" x="344"/><use id="n38_7" href="#Yl" x="396"/><use id="n38_8" href="#Tl" x="448"/><use id="n38_9" href="#Tl" x="500"/><use id="n38_10" href="#Tl" x="552"/><use id="n38_11" href="#Tl" x="604"/></g>
<g id="row39" transform="translate(0,2038)"><use id="n39_1" href="#Tr" x="84"/><use id="n39_2" href="#Kr" x="136"/><use id="n39_3" href="#Kr" x="188"/><use id="n39_4" href="#Or" x="240"/><use id="n39_5" href="#Or" x="292"/><use id="n39_6" href="#Or" x="344"/><use id="n39_7" href="#Yr" x="396"/><use id="n39_8" href="#Wr" x="448"/><use id="n39_9" href="#Tr" x="500"/><use id="n39_10" href="#Tr" x="552"/><use id="n39_11" href="#Tr" x="604"/></g>
<g id="row40" transform="translate(0,2090)"><use id="n40_1" href="#Tl" x="84"/><use id="n40_2" href="#Kl" x="136"/><use id="n40_3" href="#Tl" x="188"/><use id="n40_4" href="#Ol" x="240"/><use id="n40_5" href="#Ol" x="292"/><use id="n40_6" href="#Ol" x="344"/><use id="n40_7" href="#Yl" x="396"/><use id="n40_8" href="#Wl" x="448"/><use id="n40_9" href="#Tl" x="500"/><use id="n40_10" href="#Tl" x="552"/><use id="n40_11" href="#Tl" x="604"/></g>
<g id="row41" transform="translate(0,2142)"><use id="n41_1" href="#Tr" x="84"/><use id="n41_2" href="#Tr" x="136"/><use id="n41_3" href="#Tr" x="188"/><use id="n41_4" href="#Or" x="240"/><use id="n41_5" href="#Or" x="292"/><use id="n41_6" href="#Or" x="344"/><use id="n41_7" href="#Yr" x="396"/><use id="n41_8" href="#Wr" x="448"/><use id="n41_9" href="#Tr" x="500"/><use id="n41_10" href="#Tr" x="552"/><use id="n41_11" href="#Tr" x="604"/></g>
<g id="row42" transform="translate(0,2194)"><use id="n42_1" href="#Tl" x="84"/><use id="n42_2" href="#Kl" x="136"/><use id="n42_3" href="#Kl" x="188"/><use id="n42_4" href="#Ol" x="240"/><use id="n42_5" href="#Ol" x="292"/><use id="n42_6" href="#Ol" x="344"/><use id="n42_7" href="#Yl" x="396"/><use id="n42_8" href="#Wl" x="448"/><use id="n42_9" href="#Tl" x="500"/><use id="n42_10" href="#Tl" x="552"/><use id="n42_11" href="#Tl" x="604"/></g>
<g id="row43" transform="translate(0,2246)"><use id="n43_1" href="#Tr" x="84"/><use id="n43_2" href="#Kr" x="136"/><use id="n43_3" href="#Tr" x="188"/><use id="n43_4" href="#Yr" x="240"/><use id="n43_5" href="#Yr" x="292"/><use id="n43_6" href="#Yr" x="344"/><use id="n43_7" href="#Or" x="396"/><use id="n43_8" href="#Tr" x="448"/><use id="n43_9" href="#Tr" x="500"/><use id="n43_10" href="#Tr" x="552"/><use id="n43_11" href="#Tr" x="604"/></g>
<g id="row44" transform="translate(0,2298)"><use id="n44_1" href="#Tl" x="84"/><use id="n44_2" href="#Tl" x="136"/><use id="n44_3" href="#Tl" x="188"/><use id="n44_4" href="#Ol" x="240"/><use id="n44_5" href="#Ol" x="292"/><use id="n44_6" href="#Kl" x="344"/><use id="n44_7" href="#Ol" x="396"/><use id="n44_8" href="#Kl" x="448"/><use id="n44_9" href="#Tl" x="500"/><use id="n44_10" href="#Tl" x="552"/><use id="n44_11" href="#Tl" x="604"/></g>
<g id="row45" transform="translate(0,2350)"><use id="n45_1" href="#Tr" x="84"/><use id="n45_2" href="#Kr" x="136"/><use id="n45_3" href="#Kr" x="188"/><use id="n45_4" href="#Tr" x="240"/><use id="n45_5" href="#Or" x="292"/><use id="n45_6" href="#Or" x="344"/><use id="n45_7" href="#Or" x="396"/><use id="n45_8" href="#Tr" x="448"/><use id="n45_9" href="#Tr" x="500"/><use id="n45_10" href="#Tr" x="552"/><use id="n45_11" href="#Tr" x="604"/></g>
<g id="row46" transform="translate(0,2402)"><use id="n46_1" href="#Tl" x="84"/><use id="n46_2" href="#Kl" x="136"/><use id="n46_3" href="#Tl" x="188"/><use id="n46_4" href="#Tl" x="240"/><use id="n46_5" href="#Tl" x="292"/><use id="n46_6" href="#Ol" x="344"/><use id="n46_7" href="#Ol" x="396"/><use id="n46_8" href="#Tl" x="448"/><use id="n46_9" href="#Tl" x="500"/><use id="n46_10" href="#Tl" x="552"/><use id="n46_11" href="#Tl" x="604"/></g>
<g id="row47" transform="translate(0,2454)"><use id="n47_1" href="#Tr" x="84"/><use id="n47_2" href="#Tr" x="136"/><use id="n47_3" href="#Tr" x="188"/><use id="n47_4" href="#Tr" x="240"/><use id="n47_5" href="#Tr" x="292"/><use id="n47_6" href="#Tr" x="344"/><use id="n47_7" href="#Or" x="396"/><use id="n47_8" href="#Tr" x="448"/><use id="n47_9" href="#Tr" x="500"/><use id="n47_10" href="#Tr" x="552"/><use id="n47_11" href="#Tr" x="604"/></g>
<g id="row48" transform="translate(0,2506)"><use id="n48_1" href="#Tl" x="84"/><use id="n48_2" href="#Tl" x="136"/><use id="n48_3" href="#Tl" x="188"/><use id="n48_4" href="#Tl" x="240"/><use id="n48_5" href="#Tl" x="292"/><use id="n48_6" href="#Tl" x="344"/><use id="n48_7" href="#Ol" x="396"/><use id="n48_8" href="#Ol" x="448"/><use id="n48_9" href="#Tl" x="500"/><use id="n48_10" href="#Tl" x="552"/><use id="n48_11" href="#Tl" x="604"/></g>
<g id="row49" transform="translate(0,2558)"><use id="n49_1" href="#Tr" x="84"/><use id="n49_2" href="#Tr" x="136"/><use id="n49_3" href="#Tr" x="188"/><use id="n49_4" href="#Tr" x="240"/><use id="n49_5" href="#Tr" x="292"/><use id="n49_6" href="#Tr" x="344"/><use id="n49_7" href="#Tr" x="396"/><use id="n49_8" href="#Or" x="448"/><use id="n49_9" href="#Or" x="500"/><use id="n49_10" href="#Or" x="552"/><use id="n49_11" href="#Tr" x="604"/></g>
<g id="row50" transform="translate(0,2610)"><use id="n50_1" href="#Tl" x="84"/><use id="n50_2" href="#Tl" x="136"/><use id="n50_3" href="#Tl" x="188"/><use id="n50_4" href="#Gl" x="240"/><use id="n50_5" href="#Tl" x="292"/><use id="n50_6" href="#Tl" x="344"/><use id="n50_7" href="#Tl" x="396"/><use id="n50_8" href="#Ol" x="448"/><use id="n50_9" href="#Tl" x="500"/><use id="n50_10" href="#Tl" x="552"/><use id="n50_11" href="#Tl" x="604"/></g>
<g id="row51" transform="translate(0,2662)"><use id="n51_1" href="#Tr" x="84"/><use id="n51_2" href="#Tr" x="136"/><use id="n51_3" href="#Gr" x="188"/><use id="n51_4" href="#Gr" x="240"/><use id="n51_5" href="#Gr" x="292"/><use id="n51_6" href="#Tr" x="344"/><use id="n51_7" href="#Tr" x="396"/><use id="n51_8" href="#Or" x="448"/><use id="n51_9" href="#Tr" x="500"/><use id="n51_10" href="#Tr" x="552"/><use id="n51_11" href="#Tr" x="604"/></g>
<g id="row52" transform="translate(0,2714)"><use id="n52_1" href="#Tl" x="84"/><use id="n52_2" href="#Gl" x="136"/><use id="n52_3" href="#Gl" x="188"/><use id="n52_4" href="#Gl" x="240"/><use id="n52_5" href="#Tl" x="292"/><use id="n52_6" href="#Tl" x="344"/><use id="n52_7" href="#Tl" x="396"/><use id="n52_8" href="#Tl" x="448"/><use id="n52_9" href="#Tl" x="500"/><use id="n52_10" href="#Tl" x="552"/><use id="n52_11" href="#Tl" x="604"/></g>
<g id="row53" transform="translate(0,2766)"><use id="n53_1" href="#Tr" x="84"/><use id="n53_2" href="#Tr" x="136"/><use id="n53_3" href="#Gr" x="188"/><use id="n53_4" href="#Gr" x="240"/><use id="n53_5" href="#Gr" x="292"/><use id="n53_6" href="#Tr" x="344"/><use id="n53_7" href="#Tr" x="396"/><use id="n53_8" href="#Or" x="448"/><use id="n53_9" href="#Tr" x="500"/><use id="n53_10" href="#Tr" x="552"/><use id="n53_11" href="#Tr" x="604"/></g>
<g id="row54" transform="translate(0,2818)"><use id="n54_1" href="#Tl" x="84"/><use id="n54_2" href="#Tl" x="136"/><use id="n54_3" href="#Tl" x="188"/><use id="n54_4" href="#Gl" x="240"/><use id="n54_5" href="#Tl" x="292"/><use id="n54_6" href="#Tl" x="344"/><use id="n54_7" href="#Tl" x="396"/><use id="n54_8" href="#Ol" x="448"/><use id="n54_9" href="#Tl" x="500"/><use id="n54_10" href="#Tl" x="552"/><use id="n54_11" href="#Tl" x="604"/></g>
<g id="row55" transform="translate(0,2870)"><use id="n55_1" href="#Tr" x="84"/><use id="n55_2" href="#Tr" x="136"/><use id="n55_3" href="#Tr" x="188"/><use id="n55_4" href="#Tr" x="240"/><use id="n55_5" href="#Tr" x="292"/><use id="n55_6" href="#Tr" x="344"/><use id="n55_7" href="#Tr" x="396"/><use id="n55_8" href="#Or" x="448"/><use id="n55_9" href="#Or" x="500"/><use id="n55_10" href="#Or" x="552"/><use id="n55_11" href="#Tr" x="604"/></g>
<g id="row56" transform="translate(0,2922)"><use id="n56_1" href="#Tl" x="84"/><use id="n56_2" href="#Tl" x="136"/><use id="n56_3" href="#Tl" x="188"/><use id="n56_4" href="#Tl" x="240"/><use id="n56_5" href="#Tl" x="292"/><use id="n56_6" href="#Tl" x="344"/><use id="n56_7" href="#Ol" x="396"/><use id="n56_8" href="#Ol" x="448"/><use id="n56_9" href="#Tl" x="500"/><use id="n56_10" href="#Tl" x="552"/><use id="n56_11" href="#Tl" x="604"/></g>
<g id="row57" transform="translate(0,2974)"><use id="n57_1" href="#Tr" x="84"/><use id="n57_2" href="#Tr" x="136"/><use id="n57_3" href="#Tr" x="188"/><use id="n57_4" href="#Tr" x="240"/><use id="n57_5" href="#Tr" x="292"/><use id="n57_6" href="#Tr" x="344"/><use id="n57_7" href="#Or" x="396"/><use id="n57_8" href="#Tr" x="448"/><use id="n57_9" href="#Tr" x="500"/><use id="n57_10" href="#Tr" x="552"/><use id="n57_11" href="#Tr" x="604"/></g>
<g id="row58" transform="translate(0,3026)"><use id="n58_1" href="#Tl" x="84"/><use id="n58_2" href="#Kl" x="136"/><use id="n58_3" href="#Tl" x="188"/><use id="n58_4" href="#Tl" x="240"/><use id="n58_5" href="#Tl" x="292"/><use id="n58_6" href="#Ol" x="344"/><use id="n58_7" href="#Ol" x="396"/><use id="n58_8" href="#Tl" x="448"/><use id="n58_9" href="#Tl" x="500"/><use id="n58_10" href="#Tl" x="552"/><use id="n58_11" href="#Tl" x="604"/></g>
<g id="row59" transform="translate(0,3078)"><use id="n59_1" href="#Tr" x="84"/><use id="n59_2" href="#Kr" x="136"/><use id="n59_3" href="#Kr" x="188"/><use id="n59_4" href="#Tr" x="240"/><use id="n59_5" href="#Or" x="292"/><use id="n59_6" href="#Or" x="344"/><use id="n59_7" href="#Or" x="396"/><use id="n59_8" href="#Tr" x="448"/><use id="n59_9" href="#Tr" x="500"/><use id="n59_10" href="#Tr" x="552"/><use id="n59_11" href="#Tr" x="604"/></g>
<g id="row60" transform="translate(0,3130)"><use id="n60_1" href="#Tl" x="84"/><use id="n60_2" href="#Tl" x="136"/><use id="n60_3" href="#Tl" x="188"/><use id="n60_4" href="#Ol" x="240"/><use id="n60_5" href="#Ol" x="292"/><use id="n60_6" href="#Kl" x="344"/><use id="n60_7" href="#Ol" x="396"/><use id="n60_8" href="#Kl" x="448"/><use id="n60_9" href="#Tl" x="500"/><use id="n60_10" href="#Tl" x="552"/><use id="n60_11" href="#Tl" x="604"/></g>
<g id="row61" transform="translate(0,3182)"><use id="n61_1" href="#Tr" x="84"/><use id="n61_2" href="#Kr" x="136"/><use id="n61_3" href="#Tr" x="188"/><use id="n61_4" href="#Yr" x="240"/><use id="n61_5" href="#Yr" x="292"/><use id="n61_6" href="#Yr" x="344"/><use id="n61_7" href="#Or" x="396"/><use id="n61_8" href="#Tr" x="448"/><use id="n61_9" href="#Tr" x="500"/><use id="n61_10" href="#Tr" x="552"/><use id="n61_11" href="#Tr" x="604"/></g>
<g id="row62" transform="translate(0,3234)"><use id="n62_1" href="#Tl" x="84"/><use id="n62_2" href="#Kl" x="136"/><use id="n62_3" href="#Kl" x="188"/><use id="n62_4" href="#Ol" x="240"/><use id="n62_5" href="#Ol" x="292"/><use id="n62_6" href="#Ol" x="344"/><use id="n62_7" href="#Yl" x="396"/><use id="n62_8" href="#Wl" x="448"/><use id="n62_9" href="#Tl" x="500"/><use id="n62_10" href="#Tl" x="552"/><use id="n62_11" href="#Tl" x="604"/></g>
<g id="row63" transform="translate(0,3286)"><use id="n63_1" href="#Tr" x="84"/><use id="n63_2" href="#Tr" x="136"/><use id="n63_3" href="#Tr" x="188"/><use id="n63_4" href="#Or" x="240"/><use id="n63_5" href="#Or" x="292"/><use id="n63_6" href="#Or" x="344"/><use id="n63_7" href="#Yr" x="396"/><use id="n63_8" href="#Wr" x="448"/><use id="n63_9" href="#Tr" x="500"/><use id="n63_10" href="#Tr" x="552"/><use id="n63_11" href="#Tr" x="604"/></g>
<g id="row64" transform="translate(0,3338)"><use id="n64_1" href="#Tl" x="84"/><use id="n64_2" href="#Kl" x="136"/><use id="n64_3" href="#Tl" x="188"/><use id="n64_4" href="#Ol" x="240"/><use id="n64_5" href="#Ol" x="292"/><use id="n64_6" href="#Ol" x="344"/><use id="n64_7" href="#Yl" x="396"/><use id="n64_8" href="#Wl" x="448"/><use id="n64_9" href="#Tl" x="500"/><use id="n64_10" href="#Tl" x="552"/><use id="n64_11" href="#Tl" x="604"/></g>
<g id="row65" transform="translate(0,3390)"><use id="n65_1" href="#Tr" x="84"/><use id="n65_2" href="#Kr" x="136"/><use id="n65_3" href="#Kr" x="188"/><use id="n65_4" href="#Or" x="240"/><use id="n65_5" href="#Or" x="292"/><use id="n65_6" href="#Or" x="344"/><use id="n65_7" href="#Yr" x="396"/><use id="n65_8" href="#Wr" x="448"/><use id="n65_9" href="#Tr" x="500"/><use id="n65_10" href="#Tr" x="552"/><use id="n65_11" href="#Tr" x="604"/></g>
<g id="row66" transform="translate(0,3442)"><use id="n66_1" href="#Tl" x="84"/><use id="n66_2" href="#Tl" x="136"/><use id="n66_3" href="#Tl" x="188"/><use id="n66_4" href="#Ol" x="240"/><use id="n66_5" href="#Ol" x="292"/><use id="n66_6" href="#Ol" x="344"/><use id="n66_7" href="#Yl" x="396"/><use id="n66_8" href="#Tl" x="448"/><use id="n66_9" href="#Tl" x="500"/><use id="n66_10" href="#Tl" x="552"/><use id="n66_11" href="#Tl" x="604"/></g>
<g id="row67" transform="translate(0,3494)"><use id="n67_1" href="#Tr" x="84"/><use id="n67_2" href="#Kr" x="136"/><use id="n67_3" href="#Tr" x="188"/><use id="n67_4" href="#Or" x="240"/><use id="n67_5" href="#Or" x="292"/><use id="n67_6" href="#Or" x="344"/><use id="n67_7" href="#Tr" x="396"/><use id="n67_8" href="#Tr" x="448"/><use id="n67_9" href="#Tr" x="500"/><use id="n67_10" href="#Tr" x="552"/><use id="n67_11" href="#Tr" x="604"/></g>
<g id="row68" transform="translate(0,3546)"><use id="n68_1" href="#Tl" x="84"/><use id="n68_2" href="#Kl" x="136"/><use id="n68_3" href="#Kl" x="188"/><use id="n68_4" href="#Tl" x="240"/><use id="n68_5" href="#Tl" x="292"/><use id="n68_6" href="#Tl" x="344"/><use id="n68_7" href="#Tl" x="396"/><use id="n68_8" href="#Tl" x="448"/><use id="n68_9" href="#Tl" x="500"/><use id="n68_10" href="#Tl" x="552"/><use id="n68_11" href="#Tl" x="604"/></g>
<g id="row69" transform="translate(0,3598)"><use id="n69_1" href="#Tr" x="84"/><use id="n69_2" href="#Tr" x="136"/><use id="n69_3" href="#Tr" x="188"/><use id="n69_4" href="#Tr" x="240"/><use id="n69_5" href="#Tr" x="292"/><use id="n69_6" href="#Tr" x="344"/><use id="n69_7" href="#Tr" x="396"/><use id="n69_8" href="#Tr" x="448"/><use id="n69_9" href="#Tr" x="500"/><use id="n69_10" href="#Tr" x="552"/><use id="n69_11" href="#Tr" x="604"/></g>
</g>
<text class="wm" x="346" y="1861" text-anchor="middle">BRACELETBOOK.COM</text>
</svg>
